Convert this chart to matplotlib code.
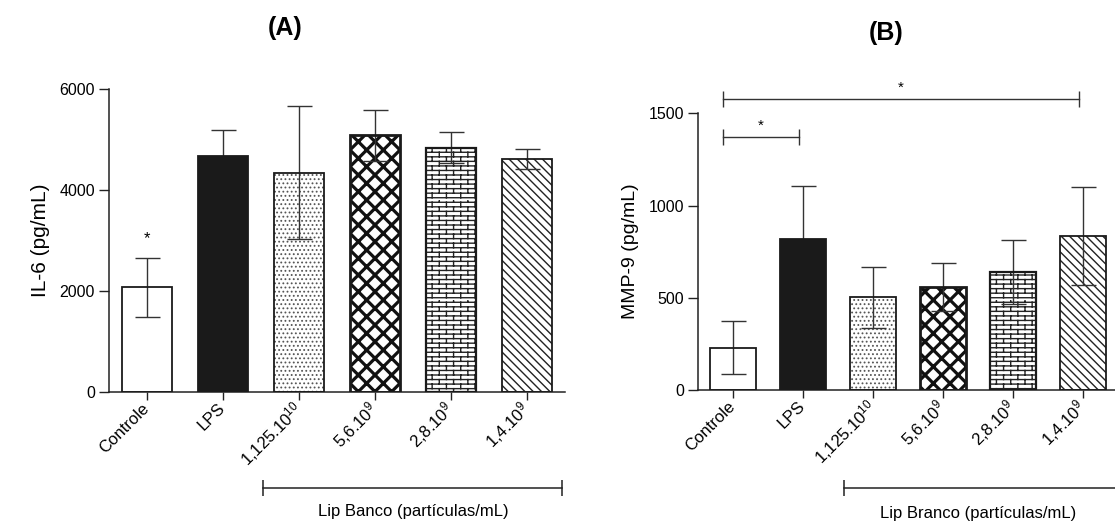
import warnings
import numpy as np
import matplotlib
matplotlib.use('Agg')
import matplotlib.pyplot as plt
from matplotlib import hatch as mhatch
from matplotlib import transforms
from matplotlib.path import Path

# custom 'b' hatch character is not in matplotlib's list of known patterns
warnings.filterwarnings('ignore', category=matplotlib.MatplotlibDeprecationWarning)

plt.rcParams['font.family'] = ['Liberation Sans', 'DejaVu Sans']
plt.rcParams['mathtext.default'] = 'regular'

groups = ['Controle', 'LPS', '1,125.10$^{10}$', '5,6.10$^{9}$', '2,8.10$^{9}$', '1,4.10$^{9}$']

il6_mean = [2070, 4680, 4340, 5080, 4840, 4620]
il6_sd = [590, 510, 1320, 500, 310, 200]

mmp9_mean = [230, 820, 502, 560, 640, 835]
mmp9_sd = [145, 285, 165, 130, 175, 265]

# significance: (group a, group b, bracket height) for MMP-9
mmp9_pairs = [(0, 1, 1373), (0, 5, 1577)]


class BrickHatch(mhatch.HatchPatternBase):
    """Brick-wall fill, selected with 'b' in the hatch string."""
    rows = 22
    cols = 7

    def __init__(self, hatch, density):
        self.on = 'b' in hatch
        self.num_vertices = (self.rows * 2 + self.rows * self.cols * 2) if self.on else 0

    def set_vertices_and_codes(self, vertices, codes):
        h = 1.0 / self.rows
        w = 1.0 / self.cols
        verts = []
        for r in range(self.rows):
            y = (r + 0.5) * h
            verts += [(0.0, y), (1.0, y)]
            off = w / 4 if r % 2 == 0 else w / 4 + w / 2
            for c in range(self.cols):
                xv = off + c * w
                verts += [(xv, y), (xv, y + h)]
        vertices[:] = np.array(verts)
        codes[0::2] = Path.MOVETO
        codes[1::2] = Path.LINETO


mhatch._hatch_types.append(BrickHatch)

# solid=True: the fill sits above the error bar, hiding its lower half
styles = [
    dict(face='white', hatch=None, hc=None, hlw=1.0, lw=1.3, solid=False),
    dict(face='#1a1a1a', hatch=None, hc=None, hlw=1.0, lw=1.3, solid=True),
    dict(face='white', hatch='....', hc='#555555', hlw=0.8, lw=1.3, solid=False),
    dict(face='white', hatch='xx', hc='#111111', hlw=2.3, lw=2.0, solid=False),
    dict(face='white', hatch='b', hc='#222222', hlw=1.0, lw=1.6, solid=False),
    dict(face='white', hatch='\\\\\\\\', hc='#222222', hlw=1.0, lw=1.3, solid=False),
]

W, H = 1115, 524
fig = plt.figure(figsize=(W / 100, H / 100), dpi=100)


def px_axes(left, right, bottom, top):
    return fig.add_axes([left / W, 1 - bottom / H, (right - left) / W, (bottom - top) / H])


def draw_panel(ax, means, sds, ymax, step, ylabel, ylabel_size, ylabel_x):
    x = np.arange(len(groups))
    for i, (m, st) in enumerate(zip(means, styles)):
        if st['solid']:
            ax.bar(i, m, width=0.67, color=st['face'], edgecolor='#1a1a1a',
                   linewidth=st['lw'], zorder=4)
            continue
        with plt.rc_context({'hatch.linewidth': st['hlw']}):
            b = ax.bar(i, m, width=0.67, color=st['face'],
                       edgecolor=st['hc'] or st['face'],
                       hatch=st['hatch'], linewidth=0, zorder=2)
        for p in b:
            if st['hatch'] and hasattr(p, 'set_hatch_linewidth'):
                p.set_hatch_linewidth(st['hlw'])
        ax.bar(i, m, width=0.67, color='none', edgecolor='#1a1a1a',
               linewidth=st['lw'], zorder=4)
    ax.errorbar(x, means, yerr=sds, fmt='none', ecolor='#333333', elinewidth=1.0,
                capsize=9, capthick=1.0, zorder=3)

    ax.set_xlim(-0.5, 5.5)
    ax.set_ylim(0, ymax)
    ax.set_yticks(np.arange(0, ymax + 1, step))
    ax.set_xticks(x)
    ax.set_xticklabels(groups, rotation=45, ha='right', va='center', rotation_mode='anchor')
    for side in ('top', 'right'):
        ax.spines[side].set_visible(False)
    for side in ('left', 'bottom'):
        ax.spines[side].set_linewidth(1.1)
        ax.spines[side].set_color('#222222')
    ax.tick_params(axis='y', length=7, width=1.0, pad=3, labelsize=11.5, color='#222222')
    ax.tick_params(axis='x', length=6, width=1.0, pad=4, labelsize=12, color='#222222')
    ax.set_ylabel(ylabel, fontsize=ylabel_size)
    ax.yaxis.set_label_coords(ylabel_x, 0.5)


def draw_group_line(ax, x0, x1, y_line, y_text, label):
    tr = transforms.blended_transform_factory(ax.transData, ax.transAxes)
    ax.plot([x0, x1], [y_line, y_line], transform=tr, color='#222222', lw=1.1,
            marker='|', markersize=11.5, markeredgewidth=1.1, clip_on=False)
    ax.text(3.5, y_text, label, transform=tr, ha='center', va='center', fontsize=12)


axA = px_axes(109, 565, 392, 89)
draw_panel(axA, il6_mean, il6_sd, 6000, 2000, 'IL-6 (pg/mL)', 15, -0.13)
axA.text(0, il6_mean[0] + il6_sd[0] + 380, '*', ha='center', va='center', fontsize=12)
draw_group_line(axA, 1.53, 5.46, -0.317, -0.396, 'Lip Banco (partículas/mL)')

axB = px_axes(698, 1118, 390, 113.3)
draw_panel(axB, mmp9_mean, mmp9_sd, 1500, 500, 'MMP-9 (pg/mL)', 14, -0.14)
draw_group_line(axB, 1.59, 5.6, -0.354, -0.445, 'Lip Branco (partículas/mL)')
for a, b, yb in mmp9_pairs:
    x0, x1 = a - 0.15, b - 0.06
    axB.plot([x0, x1], [yb, yb], color='#333333', lw=1.0, marker='|',
             markersize=11, markeredgewidth=1.0, clip_on=False, zorder=5)
    axB.text((x0 + x1) / 2, yb + 60, '*', ha='center', va='center', fontsize=11, clip_on=False)

fig.text(285 / W, 1 - 28 / H, '(A)', fontsize=18, fontweight='bold', ha='center', va='center')
fig.text(886 / W, 1 - 33 / H, '(B)', fontsize=18, fontweight='bold', ha='center', va='center')

fig.savefig('out.png', dpi=100)
